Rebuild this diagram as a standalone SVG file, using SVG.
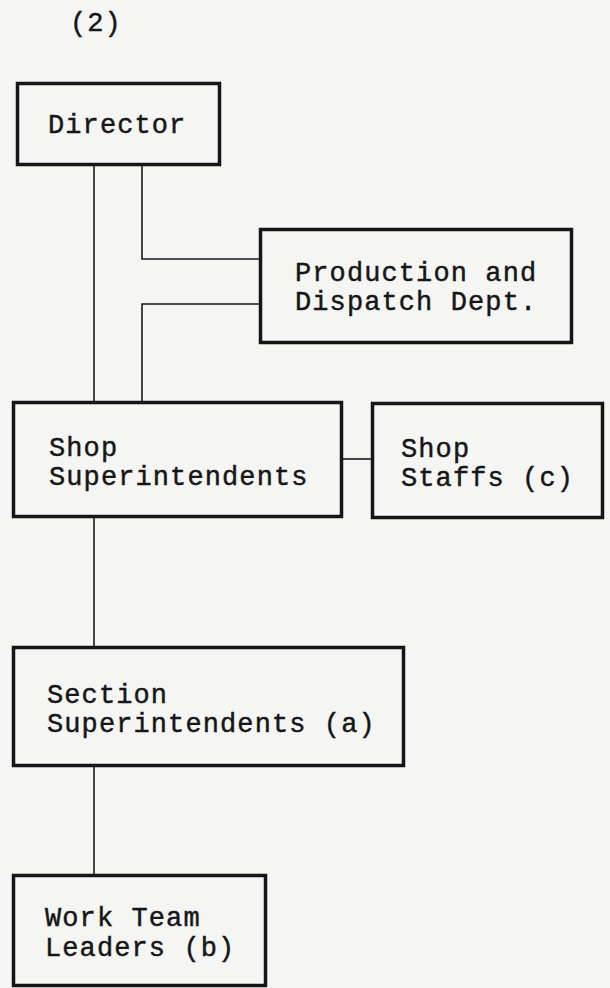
<svg xmlns="http://www.w3.org/2000/svg" width="610" height="988" viewBox="0 0 610 988">
  <style>
    .box { fill: none; stroke: #151515; stroke-width: 3.5; }
    .link { fill: none; stroke: #1a1a1a; stroke-width: 1.6; }
    .lbl { font-family: "Liberation Mono", "DejaVu Sans Mono", monospace; font-size: 27px; letter-spacing: 1.1px; fill: #161616; stroke: #161616; stroke-width: 0.45; }
  </style>
  <rect width="610" height="988" fill="#f5f5f4"/>

  <text class="lbl" x="70" y="31">(2)</text>

  <g id="connectors">
    <path class="link" d="M94,166 V401"/>
    <path class="link" d="M142,166 V259 H259"/>
    <path class="link" d="M259,304 H142 V401"/>
    <path class="link" d="M343,459 H371"/>
    <path class="link" d="M94,518 V646"/>
    <path class="link" d="M94,767 V874"/>
  </g>

  <g id="director">
    <rect class="box" x="17.5" y="83.5" width="202" height="81"/>
    <text class="lbl" x="48" y="133">Director</text>
  </g>

  <g id="production-dispatch">
    <rect class="box" x="260.5" y="229.5" width="311" height="113"/>
    <text class="lbl" x="295" y="281">Production and</text>
    <text class="lbl" x="295" y="310">Dispatch Dept.</text>
  </g>

  <g id="shop-superintendents">
    <rect class="box" x="13.5" y="402.5" width="328" height="114"/>
    <text class="lbl" x="49" y="456">Shop</text>
    <text class="lbl" x="49" y="485">Superintendents</text>
  </g>

  <g id="shop-staffs">
    <rect class="box" x="372.5" y="403.5" width="230" height="114"/>
    <text class="lbl" x="401" y="457">Shop</text>
    <text class="lbl" x="401" y="486">Staffs (c)</text>
  </g>

  <g id="section-superintendents">
    <rect class="box" x="13.5" y="647.5" width="390" height="118"/>
    <text class="lbl" x="47" y="703">Section</text>
    <text class="lbl" x="47" y="732">Superintendents (a)</text>
  </g>

  <g id="work-team-leaders">
    <rect class="box" x="13.5" y="875.5" width="252" height="110"/>
    <text class="lbl" x="45" y="926">Work Team</text>
    <text class="lbl" x="45" y="956">Leaders (b)</text>
  </g>
</svg>
